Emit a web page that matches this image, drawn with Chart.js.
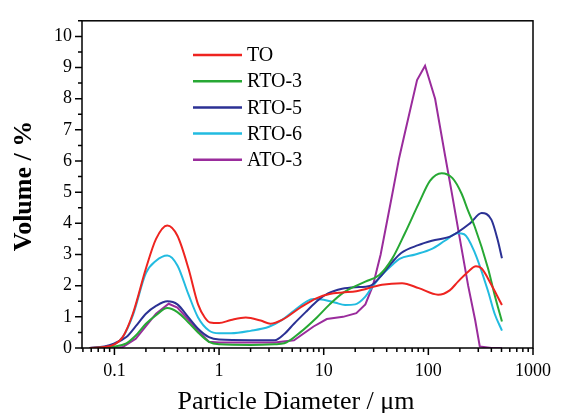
<!DOCTYPE html>
<html>
<head>
<meta charset="utf-8">
<script src="https://cdn.jsdelivr.net/npm/chart.js@4.4.1/dist/chart.umd.min.js"></script>
<style>
  html, body { margin: 0; padding: 0; background: #fff; }
  #wrap { width: 563px; height: 413px; }
</style>
</head>
<body>
<div id="wrap"><canvas id="psdChart" width="563" height="413"></canvas></div>
<script>
// particle diameters (um) and volume (%)
const toX = [0.058, 0.08, 0.1, 0.12, 0.15, 0.2, 0.25, 0.32, 0.4, 0.51, 0.63, 0.73, 0.82, 1, 1.3, 1.8, 2.5, 3.1, 4, 6, 8.6, 11.4, 15, 20.5, 36, 56, 81, 124, 160, 192, 240, 285, 323, 400, 450, 505];
const toY = [0, 0.03, 0.12, 0.35, 1.1, 2.55, 3.5, 3.93, 3.6, 2.55, 1.4, 0.98, 0.82, 0.8, 0.9, 0.98, 0.88, 0.78, 0.9, 1.3, 1.6, 1.73, 1.78, 1.82, 2.03, 2.08, 1.92, 1.71, 1.85, 2.13, 2.45, 2.62, 2.55, 2.03, 1.7, 1.38];

const rto3X = [0.058, 0.1, 0.13, 0.16, 0.2, 0.25, 0.32, 0.4, 0.51, 0.63, 0.8, 1, 2, 3.4, 4.2, 6, 8.6, 11.4, 15.3, 25, 34, 45, 60, 81, 104, 134, 170, 208, 240, 277, 372, 430, 505];
const rto3Y = [0, 0.05, 0.15, 0.4, 0.78, 1.05, 1.28, 1.15, 0.82, 0.5, 0.2, 0.12, 0.1, 0.12, 0.15, 0.51, 0.98, 1.4, 1.77, 2.13, 2.34, 2.86, 3.7, 4.64, 5.37, 5.61, 5.45, 4.95, 4.4, 3.9, 2.55, 1.7, 0.85];

const rto5X = [0.058, 0.08, 0.1, 0.13, 0.16, 0.2, 0.25, 0.32, 0.4, 0.51, 0.63, 0.8, 1, 2, 3.4, 4.2, 5.2, 6.9, 8.6, 11, 15, 20, 28, 35, 45, 55, 80, 108, 167, 250, 323, 400, 458, 505];
const rto5Y = [0, 0.05, 0.15, 0.35, 0.7, 1.1, 1.35, 1.5, 1.4, 0.98, 0.62, 0.35, 0.27, 0.25, 0.25, 0.45, 0.78, 1.19, 1.5, 1.75, 1.9, 1.95, 2.0, 2.3, 2.75, 3.05, 3.3, 3.44, 3.6, 4.0, 4.33, 4.12, 3.49, 2.88];

const rto6X = [0.058, 0.08, 0.1, 0.12, 0.15, 0.2, 0.25, 0.32, 0.4, 0.51, 0.63, 0.8, 1, 1.3, 2, 3, 4, 5, 6.9, 8, 10, 13, 16, 20, 25, 28, 35, 45, 53, 75, 108, 145, 190, 220, 277, 372, 430, 505];
const rto6Y = [0, 0.03, 0.12, 0.35, 1.05, 2.4, 2.8, 2.97, 2.65, 1.72, 0.98, 0.56, 0.47, 0.47, 0.55, 0.68, 0.9, 1.15, 1.5, 1.57, 1.55, 1.45, 1.38, 1.4, 1.65, 1.88, 2.3, 2.66, 2.86, 3.0, 3.18, 3.45, 3.68, 3.65, 3.07, 1.82, 1.1, 0.56];

const ato3X = [0.058, 0.1, 0.12, 0.16, 0.2, 0.25, 0.33, 0.4, 0.51, 0.63, 0.8, 1, 2, 3.4, 5.2, 8, 10.7, 15.3, 20.5, 25, 29.5, 35, 45, 52.6, 60, 78, 93, 116, 144, 167, 200, 240, 280, 310, 400, 505];
const ato3Y = [0, 0, 0.03, 0.3, 0.7, 1.1, 1.42, 1.3, 0.9, 0.55, 0.2, 0.18, 0.18, 0.18, 0.25, 0.69, 0.93, 1.0, 1.12, 1.4, 2.0, 3.0, 4.9, 6.1, 6.94, 8.6, 9.06, 8.0, 6.2, 5.0, 3.5, 2.0, 0.9, 0.05, 0, 0];

const seriesNames = ['TO', 'RTO-3', 'RTO-5', 'RTO-6', 'ATO-3'];
const seriesColors = ['#ee2420', '#27a834', '#2b3194', '#22bbe0', '#9a2c9c'];
const xTickLabels = [0.1, 1, 10, 100, 1000];
const yTickLabels = [0, 1, 2, 3, 4, 5, 6, 7, 8, 9, 10];

const serif = "'Liberation Serif', 'Times New Roman', serif";

function pts(xs, ys) {
    return xs.map((x, i) => ({ x: x, y: ys[i] }));
}

const seriesData = [pts(toX, toY), pts(rto3X, rto3Y), pts(rto5X, rto5Y), pts(rto6X, rto6Y), pts(ato3X, ato3Y)];

const datasets = seriesNames.map((name, i) => ({
    label: name,
    data: seriesData[i],
    borderColor: seriesColors[i],
    backgroundColor: seriesColors[i],
    borderWidth: 2,
    pointRadius: 0,
    fill: false,
    tension: name === 'ATO-3' ? 0 : 0.4,
    cubicInterpolationMode: name === 'ATO-3' ? 'default' : 'monotone'
}));

// tick marks, frame, axis titles and the in-plot legend
const framePlugin = {
    id: 'frame',
    afterDraw(chart) {
        const ctx = chart.ctx;
        const area = chart.chartArea;
        const xs = chart.scales.x;
        const ys = chart.scales.y;
        ctx.save();
        ctx.strokeStyle = '#000';
        ctx.lineWidth = 1.5;
        ctx.strokeRect(area.left, area.top, area.right - area.left, area.bottom - area.top);

        ctx.beginPath();
        for (let v = 0; v <= 10.5; v += 0.5) {
            const y = ys.getPixelForValue(v);
            const len = Number.isInteger(v) ? 7 : 4;
            ctx.moveTo(area.left, y);
            ctx.lineTo(area.left - len, y);
        }
        for (let k = -2; k <= 3; k++) {
            for (let m = 1; m <= 9; m++) {
                const v = m * Math.pow(10, k);
                if (v < xs.min || v > xs.max * 1.0001) continue;
                const x = xs.getPixelForValue(v);
                const len = m === 1 ? 7 : 4;
                ctx.moveTo(x, area.bottom);
                ctx.lineTo(x, area.bottom + len);
            }
        }
        ctx.stroke();

        ctx.fillStyle = '#000';
        // axis titles
        ctx.font = '26px ' + serif;
        ctx.textAlign = 'center';
        ctx.textBaseline = 'alphabetic';
        ctx.fillText('Particle Diameter / μm', 296, 409);
        ctx.save();
        ctx.translate(31, 186);
        ctx.rotate(-Math.PI / 2);
        ctx.font = 'bold 26px ' + serif;
        ctx.fillText('Volume / %', 0, 0);
        ctx.restore();

        // legend
        ctx.font = '20px ' + serif;
        ctx.textAlign = 'left';
        ctx.textBaseline = 'middle';
        chart.data.datasets.forEach((ds, i) => {
            const y = 55 + i * 26.2;
            ctx.strokeStyle = ds.borderColor;
            ctx.lineWidth = 2.5;
            ctx.beginPath();
            ctx.moveTo(193, y);
            ctx.lineTo(242, y);
            ctx.stroke();
            ctx.fillText(ds.label, 247, y + 1);
        });
        ctx.restore();
    }
};

new Chart(document.getElementById('psdChart').getContext('2d'), {
    type: 'line',
    data: { datasets },
    options: {
        responsive: false,
        animation: false,
        layout: { padding: { left: 0, right: 22, top: 13, bottom: 0 } },
        plugins: {
            legend: { display: false },
            tooltip: { enabled: false }
        },
        scales: {
            x: {
                type: 'logarithmic',
                min: 0.049,
                max: 1000,
                afterFit: s => { s.height = 65; },
                afterBuildTicks: s => { s.ticks = xTickLabels.map(v => ({ value: v })); },
                grid: { display: false, drawTicks: false },
                border: { display: false },
                ticks: {
                    color: '#000',
                    font: { family: serif, size: 18 },
                    padding: 12,
                    maxRotation: 0,
                    callback: v => String(v)
                }
            },
            y: {
                min: 0,
                max: 10.5,
                afterFit: s => { s.width = 82; },
                afterBuildTicks: s => { s.ticks = yTickLabels.map(v => ({ value: v })); },
                grid: { display: false, drawTicks: false },
                border: { display: false },
                ticks: {
                    color: '#000',
                    font: { family: serif, size: 18 },
                    padding: 10
                }
            }
        }
    },
    plugins: [framePlugin]
});
</script>
</body>
</html>
